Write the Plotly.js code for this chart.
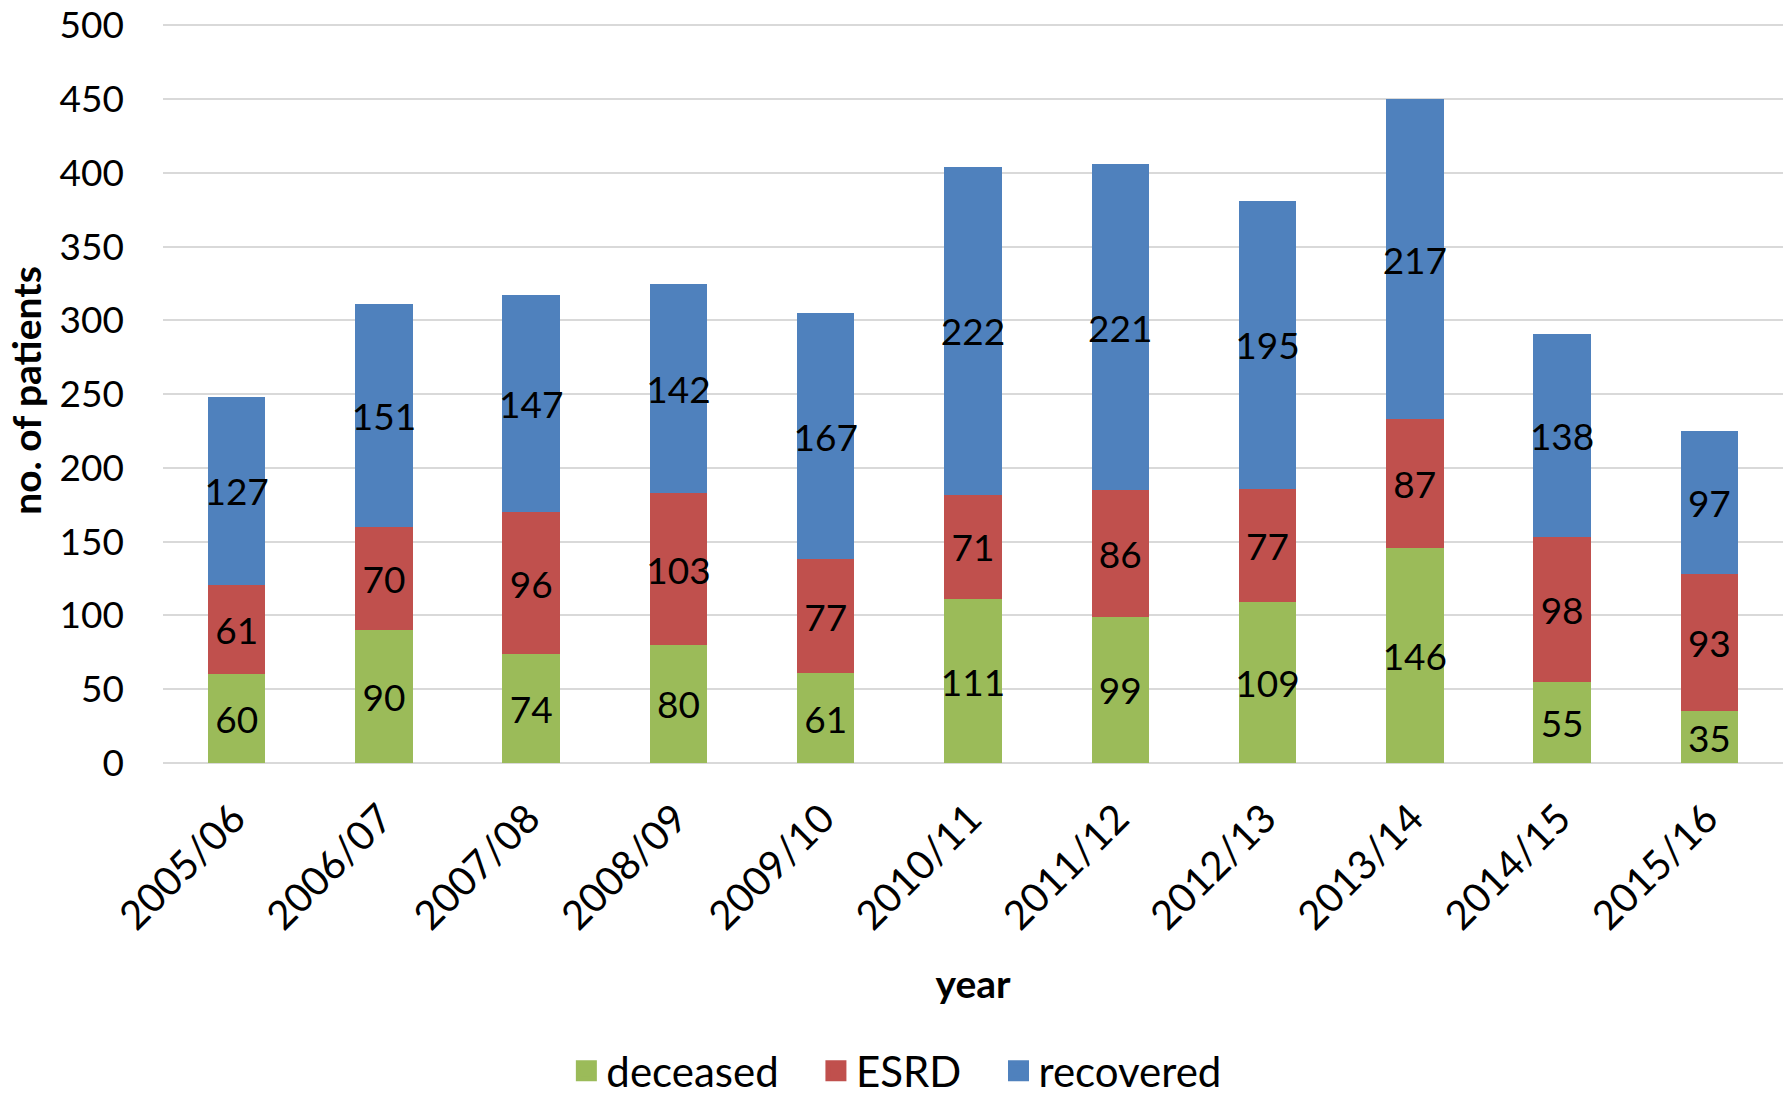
<!DOCTYPE html>
<html>
<head>
<meta charset="utf-8">
<script src="https://cdn.plot.ly/plotly-3.0.1.min.js"></script>
<style>html,body{margin:0;padding:0;background:#fff;}#chart{width:1789px;height:1098px;}</style>
</head>
<body>
<div id="chart"></div>
<script>
const years = ["2005/06","2006/07","2007/08","2008/09","2009/10","2010/11","2011/12","2012/13","2013/14","2014/15","2015/16"];
const deceased = [60, 90, 74, 80, 61, 111, 99, 109, 146, 55, 35];
const esrd = [61, 70, 96, 103, 77, 71, 86, 77, 87, 98, 93];
const recovered = [127, 151, 147, 142, 167, 222, 221, 195, 217, 138, 97];
const seriesNames = ["deceased", "ESRD", "recovered"];
const yTicks = [0, 50, 100, 150, 200, 250, 300, 350, 400, 450, 500];

const FONT = "Lato, 'Noto Sans', sans-serif";
const colors = ["#9BBB59", "#C0504D", "#4F81BD"];
const series = [deceased, esrd, recovered];
const NB = "\u00A0\u00A0\u00A0";

const traces = series.map((vals, i) => ({
  type: "bar",
  name: seriesNames[i],
  x: years,
  y: vals,
  text: vals.map(String),
  textposition: "inside",
  insidetextanchor: "middle",
  textangle: 0,
  constraintext: "none",
  textfont: {family: FONT, size: 37, color: "#000"},
  marker: {color: colors[i], line: {width: 0}},
  showlegend: false,
  hoverinfo: "x+y+name"
}));

// legend entries (square swatches)
seriesNames.forEach((nm, i) => {
  traces.push({
    type: "scatter",
    mode: "markers",
    name: i < seriesNames.length - 1 ? nm + NB : nm,
    x: [null],
    y: [null],
    marker: {symbol: "square", size: 16, color: colors[i], line: {width: 5, color: colors[i]}},
    showlegend: true,
    hoverinfo: "skip"
  });
});

const layout = {
  width: 1789,
  height: 1098,
  margin: {l: 163, r: 6, t: 18, b: 335, autoexpand: false},
  paper_bgcolor: "#fff",
  plot_bgcolor: "#fff",
  barmode: "stack",
  bargap: 0.61,
  font: {family: FONT, size: 37, color: "#000"},
  showlegend: true,
  legend: {
    orientation: "h",
    x: 0.453, xanchor: "center",
    y: -0.4135, yanchor: "middle",
    font: {family: FONT, size: 42, color: "#000"},
    traceorder: "normal",
    itemwidth: 30,
    tracegroupgap: 0
  },
  xaxis: {
    type: "category",
    automargin: false,
    tickangle: -45,
    tickfont: {family: FONT, size: 40, color: "#000"},
    showgrid: false,
    showline: false,
    zeroline: false,
    ticks: "",
    ticklabelstandoff: 23,
    ticklabelshift: -3,
    title: {text: "<b>year</b>", font: {family: FONT, size: 39, color: "#000"}, standoff: 32}
  },
  yaxis: {
    automargin: false,
    range: [0, 505],
    tickvals: yTicks,
    ticktext: yTicks.map(String),
    tickfont: {family: FONT, size: 37, color: "#000"},
    ticklabeloverflow: "allow",
    showgrid: true,
    gridcolor: "#D9D9D9",
    gridwidth: 2,
    zeroline: true,
    zerolinecolor: "#D9D9D9",
    zerolinewidth: 2,
    showline: false,
    ticks: "",
    ticklabelstandoff: 38,
    title: {text: "<b>no. of patients</b>", font: {family: FONT, size: 39, color: "#000"}, standoff: 5}
  }
};

Plotly.newPlot("chart", traces, layout, {displayModeBar: false, staticPlot: true});
</script>
</body>
</html>
